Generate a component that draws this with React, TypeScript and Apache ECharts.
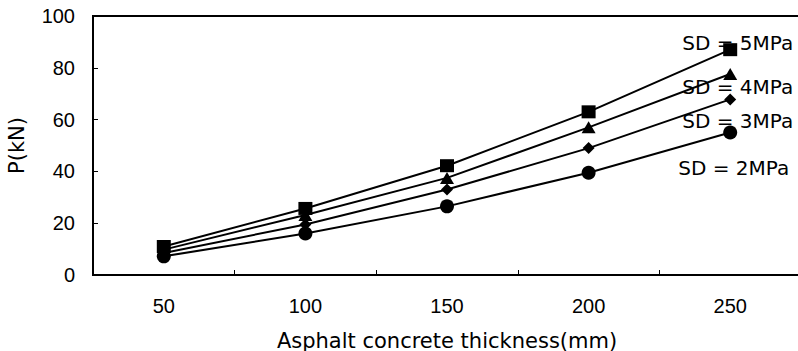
import React, { useEffect, useRef } from "react";
import * as echarts from "echarts";

const categories = ["50", "100", "150", "200", "250"];
const sd5 = [11, 25.7, 42.2, 63, 87];
const sd4 = [9.8, 23.2, 37.5, 57, 77.6];
const sd3 = [8.5, 19.5, 33, 49, 67.8];
const sd2 = [7.2, 16, 26.5, 39.5, 55];
const seriesNames = ["SD = 5MPa", "SD = 4MPa", "SD = 3MPa", "SD = 2MPa"];
const seriesData = [sd5, sd4, sd3, sd2];
const symbols = ["rect", "triangle", "diamond", "circle"];
const symbolSizes: any[] = [[14, 13], [14, 12], [12, 12], [14, 14]];
const labelOffsets: any[] = [[-48, -7], [-48, 13], [-48, 22], [-52, 35]];

export default function App() {
  const ref = useRef<HTMLDivElement>(null);
  useEffect(() => {
    document.body.style.margin = "0";
    const chart = echarts.init(ref.current!, null, { renderer: "svg" });
    const series = seriesData.map((d, i) => ({
      name: seriesNames[i],
      type: "line",
      data: d.map((v, j) =>
        j === d.length - 1
          ? {
              value: v,
              label: {
                show: true,
                formatter: seriesNames[i],
                position: "inside",
                align: "left",
                verticalAlign: "middle",
                offset: labelOffsets[i],
                fontFamily: "DejaVu Sans",
                fontSize: 20,
                color: "#000",
              },
            }
          : v
      ),
      symbol: symbols[i],
      symbolSize: symbolSizes[i],
      showAllSymbol: true,
      lineStyle: { color: "#000", width: 2 },
      itemStyle: { color: "#000" },
      label: { show: false },
    }));
    chart.setOption({
      animation: false,
      backgroundColor: "#fff",
      grid: {
        left: 93,
        top: 16,
        width: 708,
        height: 259,
        show: true,
        borderColor: "#000",
        borderWidth: 2,
        containLabel: false,
        outerBoundsMode: "none",
      },
      xAxis: {
        type: "category",
        data: categories,
        boundaryGap: true,
        name: "Asphalt concrete thickness(mm)",
        nameLocation: "middle",
        nameGap: 55,
        nameTextStyle: { fontFamily: "DejaVu Sans", fontSize: 21, color: "#000", verticalAlign: "top" },
        axisLine: { lineStyle: { color: "#000", width: 2 } },
        axisTick: { show: true, inside: true, length: 5, lineStyle: { color: "#000", width: 1 } },
        axisLabel: { fontFamily: "Liberation Sans", fontSize: 20, color: "#000", margin: 21 },
        splitLine: { show: false },
      },
      yAxis: {
        type: "value",
        min: 0,
        max: 100,
        interval: 20,
        name: "P(kN)",
        nameLocation: "middle",
        nameGap: 66,
        nameRotate: 90,
        nameTextStyle: { fontFamily: "DejaVu Sans", fontSize: 21, color: "#000" },
        axisLine: { show: true, lineStyle: { color: "#000", width: 2 } },
        axisTick: { show: true, inside: true, length: 5, lineStyle: { color: "#000", width: 1 } },
        axisLabel: { fontFamily: "Liberation Sans", fontSize: 20, color: "#000", margin: 18 },
        splitLine: { show: false },
      },
      series,
    });
    return () => chart.dispose();
  }, []);
  return <div ref={ref} style={{ width: 798, height: 351 }} />;
}
